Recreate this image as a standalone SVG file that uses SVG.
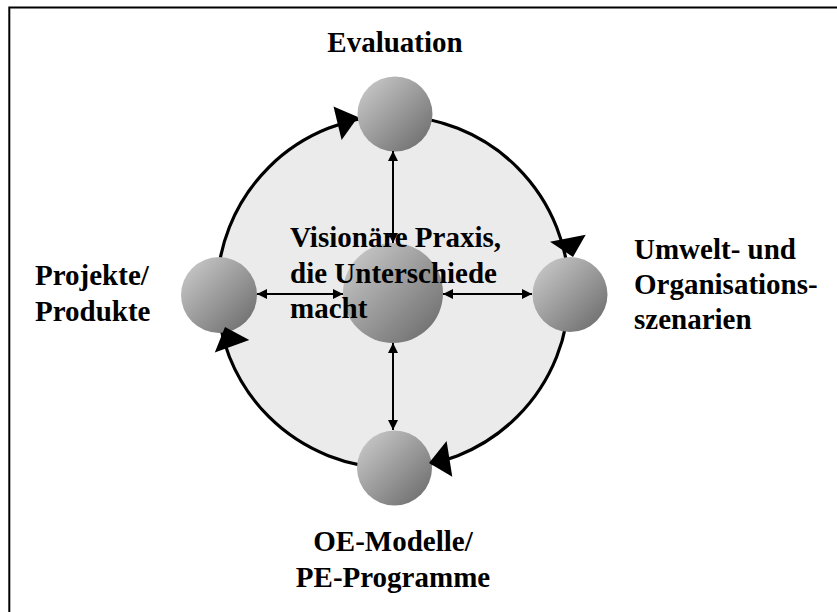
<svg xmlns="http://www.w3.org/2000/svg" width="837" height="612" viewBox="0 0 837 612">
<defs>
<linearGradient id="sph" x1="0" y1="0" x2="1" y2="1">
<stop offset="0" stop-color="#d0d0d0"/>
<stop offset="1" stop-color="#666666"/>
</linearGradient>
<marker id="ah" viewBox="0 0 10 10" refX="10" refY="5" markerWidth="10" markerHeight="10" markerUnits="userSpaceOnUse" orient="auto-start-reverse">
<path d="M0,0 L10,5 L0,10 Z" fill="#000"/>
</marker>
<style>
.lbl{font-family:"Liberation Serif","Times New Roman",serif;font-weight:bold;font-size:29px;fill:#000}
.sp{fill:url(#sph)}
.dbl{stroke:#000;stroke-width:2;fill:none;marker-start:url(#ah);marker-end:url(#ah)}
.tri{fill:#000}
</style>
</defs>
<rect width="837" height="612" fill="#fff"/>
<path d="M9.3,612 V7.5 H837" fill="none" stroke="#000" stroke-width="2"/>
<g id="ring">
<circle cx="393" cy="292" r="176" fill="#ebebeb" stroke="#000" stroke-width="3.2"/>
</g>
<g id="evaluation">
<circle class="sp" cx="395" cy="114" r="37.5"/>
<text class="lbl" x="395" y="52" text-anchor="middle">Evaluation</text>
</g>
<g id="umwelt">
<circle class="sp" cx="570" cy="294.5" r="37.5"/>
<text class="lbl" x="634" y="259">Umwelt- und</text>
<text class="lbl" x="634" y="294">Organisations-</text>
<text class="lbl" x="634" y="329">szenarien</text>
</g>
<g id="oe-modelle">
<circle class="sp" cx="394.5" cy="468" r="37.5"/>
<text class="lbl" x="393" y="551" text-anchor="middle">OE-Modelle/</text>
<text class="lbl" x="393" y="587" text-anchor="middle">PE-Programme</text>
</g>
<g id="projekte">
<circle class="sp" cx="219" cy="295" r="38"/>
<text class="lbl" x="35" y="285">Projekte/</text>
<text class="lbl" x="35" y="321">Produkte</text>
</g>
<g id="vision">
<circle class="sp" cx="393" cy="293" r="50"/>
<text class="lbl" x="290" y="247">Visionäre Praxis,</text>
<text class="lbl" x="290" y="283">die Unterschiede</text>
<text class="lbl" x="290" y="318">macht</text>
</g>
<g id="connectors">
<line class="dbl" x1="393" y1="151" x2="393" y2="243"/>
<line class="dbl" x1="257" y1="294" x2="343" y2="294"/>
<line class="dbl" x1="443" y1="294" x2="532" y2="294"/>
<line class="dbl" x1="393" y1="343" x2="393" y2="430"/>
<polygon class="tri" points="333.5,106.6 358,117 341.6,140"/>
<polygon class="tri" points="550,241.7 585.7,234.8 573,257"/>
<polygon class="tri" points="446.6,441.1 452.3,476.8 429,463"/>
<polygon class="tri" points="214.8,352.6 249.3,340 225,327"/>
</g>
</svg>
